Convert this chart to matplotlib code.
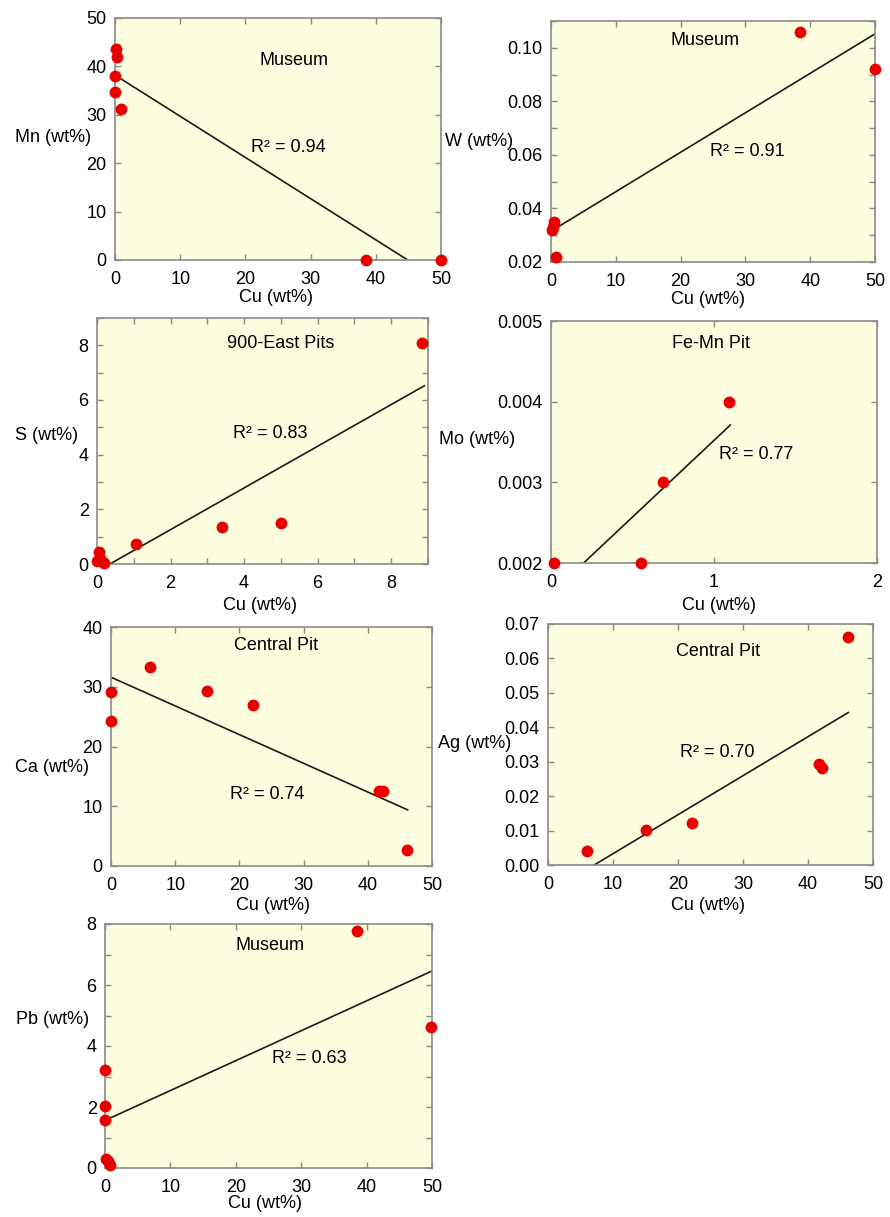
import matplotlib
matplotlib.use("Agg")
import matplotlib.pyplot as plt
from matplotlib.ticker import MultipleLocator, FixedLocator

plt.rcParams['font.family'] = ['Liberation Sans', 'DejaVu Sans']

W_PX, H_PX = 890, 1217
fig = plt.figure(figsize=(W_PX / 100, H_PX / 100), dpi=100)

# ---------------- data ----------------
mn_cu = [0.1, 0.3, 0.0, 0.0, 0.9, 38.5, 50.0]
mn_val = [43.5, 42.0, 38.0, 34.7, 31.3, 0.1, 0.1]
mn_fit_x = [0.0, 44.9]
mn_fit_y = [38.2, 0.0]

w_cu = [0.4, 0.3, 0.2, 0.8, 38.5, 50.0]
w_val = [0.0349, 0.033, 0.0318, 0.0219, 0.106, 0.0919]
w_fit_x = [0.0, 50.0]
w_fit_y = [0.0315, 0.1052]

s_cu = [0.05, 0.0, 0.12, 0.2, 1.05, 3.4, 5.0, 8.85]
s_val = [0.45, 0.1, 0.15, 0.05, 0.75, 1.34, 1.49, 8.09]
s_fit_x = [0.35, 8.9]
s_fit_y = [0.0, 6.52]

mo_cu = [0.02, 0.55, 0.69, 1.09]
mo_val = [0.002, 0.002, 0.003, 0.004]
mo_fit_x = [0.2, 1.1]
mo_fit_y = [0.002, 0.00371]

ca_cu = [0.0, 0.0, 6.0, 14.9, 22.1, 41.8, 42.3, 46.1]
ca_val = [29.1, 24.2, 33.3, 29.3, 26.9, 12.6, 12.6, 2.6]
ca_fit_x = [0.0, 46.2]
ca_fit_y = [31.6, 9.4]

ag_cu = [6.0, 15.0, 22.2, 41.7, 42.2, 46.1]
ag_val = [0.0041, 0.0102, 0.0121, 0.0292, 0.0281, 0.0663]
ag_fit_x = [7.1, 46.2]
ag_fit_y = [0.0, 0.0443]

pb_cu = [0.0, 0.0, 0.0, 0.2, 0.5, 0.8, 38.5, 49.8]
pb_val = [3.21, 2.02, 1.59, 0.31, 0.22, 0.09, 7.77, 4.63]
pb_fit_x = [0.0, 50.0]
pb_fit_y = [1.56, 6.46]

x_label = "Cu (wt%)"

BG = '#fdfde0'
FRAME = '#8a8a8a'
RED = '#e80000'
FS = 13


def box(l, t, r, b):
    return [l / W_PX, 1 - b / H_PX, (r - l) / W_PX, (b - t) / H_PX]


def panel(px_box, xs, ys, fx, fy, xlim, ylim, xmaj, ymaj, yminor, xminor,
          ylabels, xlabels, ylab, ylab_pos, xlab_pos, site, site_xy, r2, r2_xy):
    ax = fig.add_axes(box(*px_box))
    ax.set_facecolor(BG)
    ax.set_xlim(*xlim)
    ax.set_ylim(*ylim)
    ax.plot(fx, fy, color='#1a1a1a', lw=1.2, zorder=2)
    ax.plot(xs, ys, 'o', color=RED, ms=7.5, mec=RED, zorder=3, clip_on=False)
    ax.xaxis.set_major_locator(FixedLocator(xmaj))
    ax.yaxis.set_major_locator(FixedLocator(ymaj))
    if xminor:
        ax.xaxis.set_minor_locator(MultipleLocator(xminor))
    if yminor:
        ax.yaxis.set_minor_locator(MultipleLocator(yminor))
    ax.set_xticklabels(xlabels)
    ax.set_yticklabels(ylabels)
    ax.tick_params(which='both', direction='in', top=True, right=True,
                   length=4, width=1, color=FRAME, labelsize=FS)
    ax.tick_params(axis='y', pad=6)
    ax.tick_params(axis='x', pad=8)
    for sp in ax.spines.values():
        sp.set_color(FRAME)
        sp.set_linewidth(1.2)
    ax.text(site_xy[0], site_xy[1], site, ha='center', va='center', fontsize=FS)
    ax.text(r2_xy[0], r2_xy[1], r2, ha='center', va='center', fontsize=FS)
    fig.text(ylab_pos[0] / W_PX, 1 - ylab_pos[1] / H_PX, ylab,
             ha='center', va='center', fontsize=FS)
    fig.text(xlab_pos[0] / W_PX, 1 - xlab_pos[1] / H_PX, x_label,
             ha='center', va='center', fontsize=FS)
    return ax


panel((115, 18, 441, 260), mn_cu, mn_val, mn_fit_x, mn_fit_y, (0, 50), (0, 50),
      [0, 10, 20, 30, 40, 50], [0, 10, 20, 30, 40, 50], None, None,
      ['0', '10', '20', '30', '40', '50'], ['0', '10', '20', '30', '40', '50'],
      'Mn (wt%)', (53, 137), (276, 298), 'Museum', (27.4, 41.2), 'R² = 0.94', (26.6, 23.3))

panel((551, 21, 875, 262), w_cu, w_val, w_fit_x, w_fit_y, (0, 50), (0.02, 0.11),
      [0, 10, 20, 30, 40, 50], [0.02, 0.04, 0.06, 0.08, 0.10], 0.01, None,
      ['0.02', '0.04', '0.06', '0.08', '0.10'], ['0', '10', '20', '30', '40', '50'],
      'W (wt%)', (479, 142), (708, 300), 'Museum', (23.7, 0.1027), 'R² = 0.91', (30.3, 0.0614))

panel((97, 318, 428, 564), s_cu, s_val, s_fit_x, s_fit_y, (0, 9), (0, 9),
      [0, 2, 4, 6, 8], [0, 2, 4, 6, 8], 1, 1,
      ['0', '2', '4', '6', '8'], ['0', '2', '4', '6', '8'],
      'S (wt%)', (47, 435), (260, 606), '900-East Pits', (5.0, 8.06), 'R² = 0.83', (4.72, 4.77))

panel((551, 321, 877, 563), mo_cu, mo_val, mo_fit_x, mo_fit_y, (0, 2), (0.002, 0.005),
      [0, 1, 2], [0.002, 0.003, 0.004, 0.005], None, None,
      ['0.002', '0.003', '0.004', '0.005'], ['0', '1', '2'],
      'Mo (wt%)', (477, 439), (719, 606), 'Fe-Mn Pit', (0.98, 0.00472), 'R² = 0.77', (1.26, 0.00335))

panel((111, 627, 432, 866), ca_cu, ca_val, ca_fit_x, ca_fit_y, (0, 50), (0, 40),
      [0, 10, 20, 30, 40, 50], [0, 10, 20, 30, 40], None, None,
      ['0', '10', '20', '30', '40'], ['0', '10', '20', '30', '40', '50'],
      'Ca (wt%)', (52, 767), (273, 906), 'Central Pit', (25.7, 36.9), 'R² = 0.74', (24.4, 12.0))

panel((548, 624, 873, 865), ag_cu, ag_val, ag_fit_x, ag_fit_y, (0, 50), (0, 0.07),
      [0, 10, 20, 30, 40, 50], [0, 0.01, 0.02, 0.03, 0.04, 0.05, 0.06, 0.07], None, None,
      ['0.00', '0.01', '0.02', '0.03', '0.04', '0.05', '0.06', '0.07'],
      ['0', '10', '20', '30', '40', '50'],
      'Ag (wt%)', (475, 743), (708, 906), 'Central Pit', (26.1, 0.062), 'R² = 0.70', (26.1, 0.0326))

panel((105, 924, 432, 1168), pb_cu, pb_val, pb_fit_x, pb_fit_y, (0, 50), (0, 8),
      [0, 10, 20, 30, 40, 50], [0, 2, 4, 6, 8], 1, None,
      ['0', '2', '4', '6', '8'], ['0', '10', '20', '30', '40', '50'],
      'Pb (wt%)', (53, 1020), (265, 1204), 'Museum', (25.2, 7.31), 'R² = 0.63', (31.3, 3.58))

fig.savefig('out.png', dpi=100, facecolor='white')
